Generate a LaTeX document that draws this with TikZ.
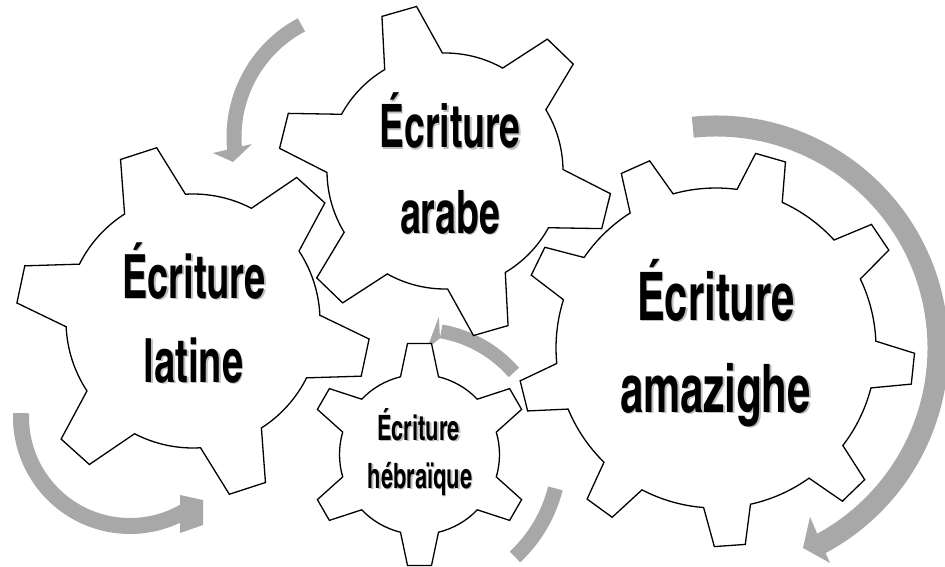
\documentclass[tikz,border=0pt]{standalone}
\usepackage{fontspec}
\newfontfamily\gearfont{texgyreheroscn-bold.otf}[FakeStretch=0.76]
\definecolor{arrowgray}{RGB}{168,168,168}
\tikzset{
  gearline/.style={draw=black, fill=white, line width=1.3pt, line join=miter},
  lbl/.style={anchor=base, inner sep=0pt, text=black},
  shd/.style={anchor=base, inner sep=0pt, text=black!25},
}
% gear: cx, cy, R(tip), r(root), tip half-width, base half-width, N, phase
\newcommand\drawgear[8]{%
  \pgfmathsetmacro\gRt{veclen(#3,#5)}%
  \pgfmathsetmacro\ga{atan((#5)/(#3))}%
  \pgfmathsetmacro\gb{asin((#6)/(#4))}%
  \pgfmathsetmacro\gs{360/(#7)}%
  \pgfmathtruncatemacro\gN{(#7)-1}%
  \filldraw[gearline, shift={(#1,#2)}] ({#8-\gb}:#4)
    \foreach \k in {0,...,\gN}{
      -- ({#8+\k*\gs-\ga}:\gRt) -- ({#8+\k*\gs+\ga}:\gRt) -- ({#8+\k*\gs+\gb}:#4)
      arc[start angle={#8+\k*\gs+\gb}, end angle={#8+(\k+1)*\gs-\gb}, radius=#4pt]
    } -- cycle;
}
% grey bar: cx, cy, r, width, a1, a2
\newcommand\graybar[6]{%
  \draw[arrowgray, line width=#4pt, shift={(#1,#2)}] (#5:#3)
    arc[start angle=#5, end angle=#6, radius=#3pt];
}
\newcommand\gearlabel[5]{%
  \node[shd, font=\gearfont\fontsize{#4}{#4}\selectfont] (#1s) at ({#2+1.6},{566-#3-1.8}) {#5};
  \node[lbl, font=\gearfont\fontsize{#4}{#4}\selectfont] (#1) at (#2,{566-#3}) {#5};
}
\begin{document}
\begin{tikzpicture}[x=1pt,y=1pt]
\useasboundingbox (0,0) rectangle (945,566);
\fill[white] (0,0) rectangle (945,566);
% ---- arrows (under the gears)
% top-left arrow
\graybar{361}{429}{127}{15}{118}{186}
\fill[arrowgray] (213,413) -- (233,404) -- (252,422) -- cycle;
% big right arrow
\graybar{716}{218}{222}{21}{96}{-62}
\fill[arrowgray] (810,49) -- (803,18) -- (830,3) -- cycle;
% middle arrow (amazighe -> arabe)
\graybar{419.5}{111.5}{125}{14}{41}{80}
\fill[arrowgray, shift={(419.5,111.5)}] (80:118) -- (82:139) -- (86:106) -- cycle;
% bottom-left arrow
\graybar{130}{149}{109}{16}{178}{300}
\fill[arrowgray] (180,71) -- (203,66) -- (203,41) -- (180,33) -- cycle;
% bottom-centre bar
\graybar{419.5}{111.5}{140}{15}{-14}{-47}
% ---- gears
\drawgear{193}{245}{176}{127}{19}{32}{6}{48}
\drawgear{445}{395}{166}{118}{18}{30}{6}{46}
\drawgear{419.5}{111.5}{111}{80}{12}{19}{6}{30}
\drawgear{716}{218}{198}{160}{15.5}{23.5}{9}{34}
% ---- labels
\gearlabel{latinA}{194}{298}{61}{Écriture}
\gearlabel{latinB}{193.5}{382}{61}{latine}
\gearlabel{arabeA}{450}{148}{60}{Écriture}
\gearlabel{arabeB}{450}{233}{60}{arabe}
\gearlabel{amazA}{716}{320}{67}{Écriture}
\gearlabel{amazB}{715.5}{412}{67}{amazighe}
\gearlabel{hebA}{418.5}{440}{35}{Écriture}
\gearlabel{hebB}{420}{488}{35}{hébraïque}
\end{tikzpicture}
\end{document}
